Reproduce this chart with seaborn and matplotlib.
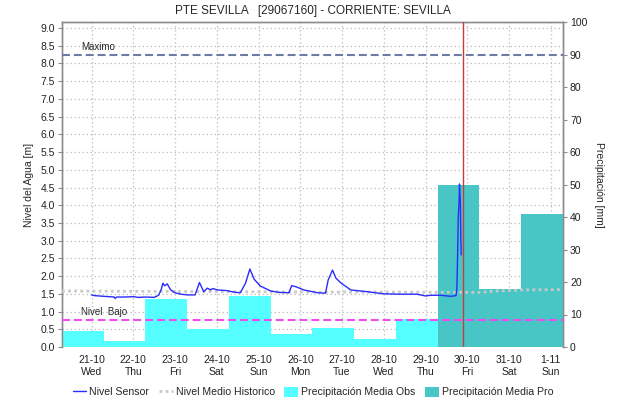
import numpy as np
import pandas as pd
import matplotlib
matplotlib.use('Agg')
import matplotlib.pyplot as plt
import matplotlib.dates as mdates
import matplotlib.transforms as mtransforms
from matplotlib.lines import Line2D
from matplotlib.patches import Patch
from matplotlib.ticker import FuncFormatter, MultipleLocator
import seaborn as sns

# Nivel sensor (m)
sensor_times = [
    '2020-10-21 00:00', '2020-10-21 01:30', '2020-10-21 07:00', '2020-10-21 13:00',
    '2020-10-21 13:30', '2020-10-21 14:30', '2020-10-21 19:00', '2020-10-22 00:30',
    '2020-10-22 02:30', '2020-10-22 07:00', '2020-10-22 12:00', '2020-10-22 14:30',
    '2020-10-22 16:00', '2020-10-22 17:00', '2020-10-22 18:00', '2020-10-22 19:30',
    '2020-10-22 21:30', '2020-10-23 00:00', '2020-10-23 03:30', '2020-10-23 07:00',
    '2020-10-23 11:30', '2020-10-23 14:00', '2020-10-23 16:30', '2020-10-23 18:30',
    '2020-10-23 20:30', '2020-10-23 21:30', '2020-10-24 00:30', '2020-10-24 06:00',
    '2020-10-24 09:30', '2020-10-24 13:30', '2020-10-24 16:30', '2020-10-24 19:00',
    '2020-10-24 21:30', '2020-10-25 01:00', '2020-10-25 07:00', '2020-10-25 12:00',
    '2020-10-25 17:30', '2020-10-25 19:00', '2020-10-25 21:30', '2020-10-26 02:00',
    '2020-10-26 10:00', '2020-10-26 14:30', '2020-10-26 16:00', '2020-10-26 18:30',
    '2020-10-26 20:30', '2020-10-26 23:30', '2020-10-27 05:00', '2020-10-27 14:30',
    '2020-10-28 00:00', '2020-10-28 09:30', '2020-10-28 19:00', '2020-10-29 00:00',
    '2020-10-29 03:00', '2020-10-29 08:30', '2020-10-29 14:30', '2020-10-29 17:30',
    '2020-10-29 18:00', '2020-10-29 18:30', '2020-10-29 18:45', '2020-10-29 19:15',
    '2020-10-29 19:30', '2020-10-29 20:00', '2020-10-29 20:15', '2020-10-29 20:30',
]
sensor_level = [
    1.47, 1.45, 1.43, 1.41, 1.37, 1.41, 1.41, 1.42,
    1.40, 1.41, 1.40, 1.46, 1.62, 1.80, 1.73, 1.78,
    1.61, 1.53, 1.49, 1.47, 1.47, 1.82, 1.56, 1.66,
    1.61, 1.65, 1.61, 1.59, 1.55, 1.53, 1.80, 2.20,
    1.91, 1.72, 1.58, 1.54, 1.53, 1.73, 1.70, 1.61,
    1.53, 1.52, 1.89, 2.17, 1.94, 1.80, 1.61, 1.56,
    1.50, 1.49, 1.49, 1.44, 1.46, 1.46, 1.43, 1.45,
    1.65, 2.80, 3.60, 4.10, 4.60, 4.10, 3.10, 2.60,
]

# Nivel medio historico (m)
hist_times = ['2020-10-20 07:00', '2020-10-22 07:00', '2020-10-24 07:00', '2020-10-26 07:00',
              '2020-10-28 07:00', '2020-10-30 07:00', '2020-10-30 17:00', '2020-10-31 07:00',
              '2020-11-01 07:00']
hist_level = [1.58, 1.57, 1.56, 1.55, 1.55, 1.54, 1.58, 1.61, 1.62]

# Precipitacion (mm), dias pluviometricos 07:00 - 07:00
obs_days = ['2020-10-20 07:00', '2020-10-21 07:00', '2020-10-22 07:00', '2020-10-23 07:00',
            '2020-10-24 07:00', '2020-10-25 07:00', '2020-10-26 07:00', '2020-10-27 07:00',
            '2020-10-28 07:00']
obs_mm = [5.0, 1.8, 14.8, 5.6, 15.8, 4.0, 5.9, 2.5, 8.5]
pro_days = ['2020-10-29 07:00', '2020-10-30 07:00', '2020-10-31 07:00']
pro_mm = [50.0, 17.7, 41.0]

nivel_maximo = 8.25
nivel_bajo = 0.77
now_time = '2020-10-29 21:45'
x_start, x_end = '2020-10-20 07:00', '2020-11-01 07:00'

sensor = pd.DataFrame({'fecha': pd.to_datetime(sensor_times), 'nivel': sensor_level})
hist = pd.DataFrame({'fecha': pd.to_datetime(hist_times), 'nivel': hist_level})

sns.set_style('white')
plt.rcParams['font.family'] = ['Liberation Sans', 'DejaVu Sans']

fig = plt.figure(figsize=(6.18, 4.03), dpi=100)
ax = fig.add_axes([62 / 618, 1 - 347 / 403, 501 / 618, 325 / 403])
ax.set_xlim(pd.Timestamp(x_start), pd.Timestamp(x_end))
ax2 = ax.twinx()   # barras de precipitacion
ax3 = ax.twinx()   # lineas de nivel, encima de todo

SPINE = '#8c8c8c'
GRID = '#c4c4c4'

# left axis: nivel
ax.set_ylim(0, 9.17)
ax.yaxis.set_major_locator(MultipleLocator(0.5))
ax.yaxis.set_major_formatter(FuncFormatter(lambda v, p: f'{v:.1f}'))
ax.grid(True, color=GRID, linestyle=(0, (1.2, 2)), linewidth=0.9)
ax.set_ylabel('Nivel del Agua [m]', fontsize=7.5, labelpad=5)
ax.tick_params(axis='y', length=3, color=SPINE, labelsize=7.5, pad=2, labelcolor='#222222')

ax.xaxis.set_major_locator(mdates.DayLocator())
ax.xaxis.set_minor_locator(mdates.HourLocator())
ax.xaxis.set_major_formatter(FuncFormatter(
    lambda v, p: '{0}-{1}\n{2}'.format(mdates.num2date(v).day, mdates.num2date(v).month,
                                       mdates.num2date(v).strftime('%a'))))
ax.tick_params(axis='x', which='major', length=2, color='#555555', labelsize=7.5, pad=4,
               labelcolor='#222222')
ax.tick_params(axis='x', which='minor', length=1.5, width=0.8, color='#555555')
for lbl in ax.get_xticklabels():
    lbl.set_linespacing(1.15)

# right axis: precipitacion
ax2.bar(pd.to_datetime(obs_days), obs_mm, width=pd.Timedelta(days=1), align='edge',
        color='#55ffff', linewidth=0)
ax2.bar(pd.to_datetime(pro_days), pro_mm, width=pd.Timedelta(days=1), align='edge',
        color='#48c6c6', linewidth=0)
ax2.set_ylim(0, 100)
ax2.yaxis.set_major_locator(MultipleLocator(10))
ax2.set_ylabel('Precipitación [mm]', rotation=270, fontsize=7.5, labelpad=12)
ax2.tick_params(axis='y', length=3, color=SPINE, labelsize=7.5, pad=2, labelcolor='#222222')
ax2.grid(False)

for a in (ax, ax2):
    for side in ('left', 'right', 'top'):
        a.spines[side].set_color(SPINE)
        a.spines[side].set_linewidth(1)
    a.spines['bottom'].set_visible(False)

# lines
ax3.set_ylim(0, 9.17)
sns.lineplot(data=hist, x='fecha', y='nivel', ax=ax3, color='#c8c8c8',
             linestyle=(0, (1, 1.2)), linewidth=2, legend=False)
ax3.axhline(nivel_maximo, color='#6c7ca6', linestyle=(0, (3.8, 1.9)), linewidth=1.5)
ax3.axhline(nivel_bajo, color='#ee4cee', linestyle=(0, (3.8, 1.9)), linewidth=1.5)
sns.lineplot(data=sensor, x='fecha', y='nivel', ax=ax3, color='#2b2bff',
             linewidth=1, legend=False)
ax3.axvline(pd.Timestamp(now_time), color='#c83c3c', linewidth=1)
ax3.axis('off')

trans = mtransforms.blended_transform_factory(ax3.transAxes, ax3.transData)
ax3.text(0.038, nivel_maximo + 0.08, 'Maximo', transform=trans, fontsize=7, va='bottom')
ax3.text(0.038, nivel_bajo + 0.08, 'Nivel  Bajo', transform=trans, fontsize=7, va='bottom')

fig.text(313 / 618, 1 - 11 / 403, 'PTE SEVILLA   [29067160] - CORRIENTE: SEVILLA',
         ha='center', va='center', fontsize=8.5)

handles = [
    Line2D([], [], color='#2b2bff', linewidth=1),
    Line2D([], [], color='#c8c8c8', linestyle=(0, (1, 1.2)), linewidth=2),
    Patch(facecolor='#55ffff', linewidth=0),
    Patch(facecolor='#48c6c6', linewidth=0),
]
labels = ['Nivel Sensor', 'Nivel Medio Historico', 'Precipitación Media Obs',
          'Precipitación Media Pro']
fig.legend(handles, labels, loc='center', bbox_to_anchor=(313 / 618, 1 - 392 / 403),
           ncol=4, frameon=False, fontsize=7.6, handlelength=1.3, handleheight=1.1,
           handletextpad=0.3, columnspacing=0.9)

fig.savefig('out.png', dpi=100)
